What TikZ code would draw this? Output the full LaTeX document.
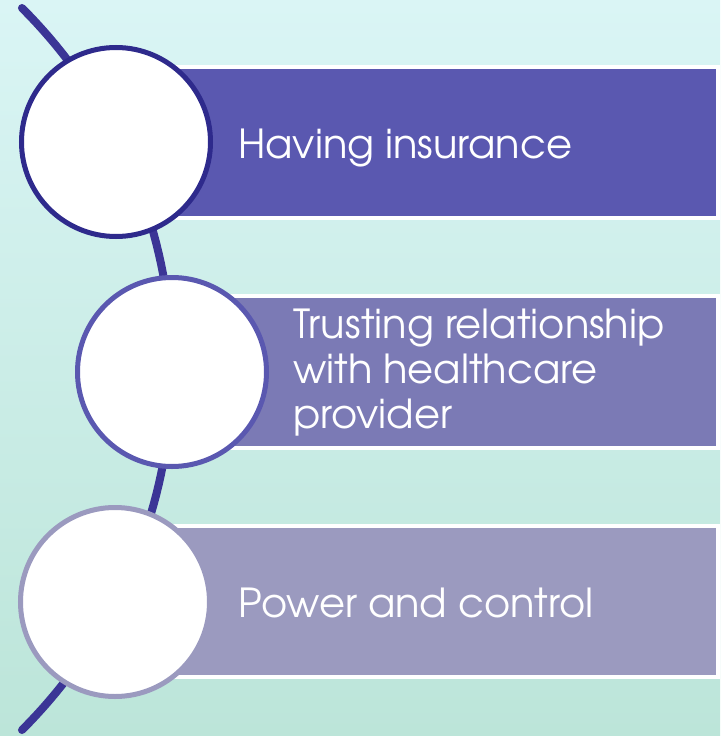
\documentclass[tikz,border=0pt]{standalone}
\usepackage{fontspec}
\setmainfont{TeX Gyre Adventor}
\definecolor{bgtop}{RGB}{218,245,245}
\definecolor{bgbot}{RGB}{188,229,217}
\definecolor{fillA}{RGB}{90,88,176}
\definecolor{fillB}{RGB}{123,122,181}
\definecolor{fillC}{RGB}{155,154,191}
\definecolor{ringA}{RGB}{46,42,140}
\definecolor{ringB}{RGB}{90,88,176}
\definecolor{ringC}{RGB}{155,154,191}
\definecolor{arcc}{RGB}{59,53,150}
\tikzset{
  bar/.style={draw=white,line width=3.5pt},
  disc/.style={circle,fill=white,line width=5pt,inner sep=0pt,minimum size=189pt},
  label/.style={text=white,inner sep=0pt,font=\fontsize{40}{45}\selectfont,align=left}
}
\begin{document}
\begin{tikzpicture}[x=1pt,y=-1pt]
\useasboundingbox (0,0) rectangle (720,736);
\shade[top color=bgtop,bottom color=bgbot] (0,0) rectangle (720,736);
% arc
\draw[arcc,line width=8pt,line cap=round] plot[domain=-45.13:45.13,samples=80]
  ({-337.4+509.4*cos(\x)},{369+509.4*sin(\x)});
% bars
\path[bar,fill=fillA] (116,67) rectangle (718,218);
\path[bar,fill=fillB] (172,296) rectangle (718,448);
\path[bar,fill=fillC] (115,526) rectangle (718,677);
% circles
\node[disc,draw=ringA] (c1) at (116,142) {};
\node[disc,draw=ringB] (c2) at (172,372) {};
\node[disc,draw=ringC] (c3) at (115,602) {};
% labels
\node[label,anchor=base west] (t1) at (238,158) {Having insurance};
\node[label,anchor=west] (t2) at (293,373) {Trusting relationship\\with healthcare\\provider};
\node[label,anchor=base west] (t3) at (238,617) {Power and control};
\end{tikzpicture}
\end{document}
